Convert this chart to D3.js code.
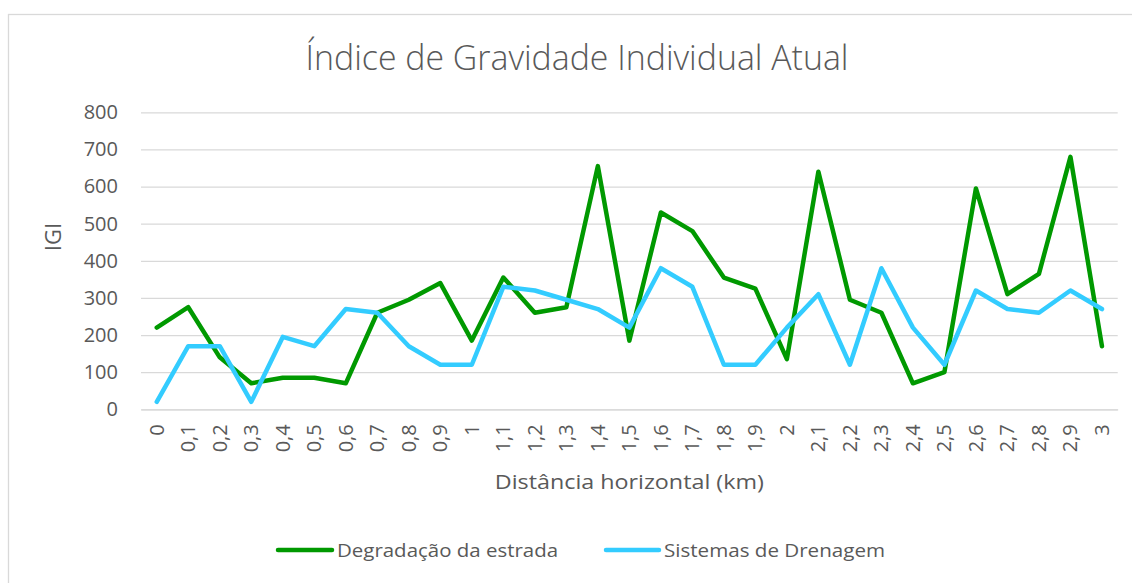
<!DOCTYPE html>
<html>
<head>
<meta charset="utf-8">
<script src="https://cdn.jsdelivr.net/npm/d3@7"></script>
<style>
  html, body { margin: 0; padding: 0; background: #fff; }
  svg { display: block; }
  text { font-family: "Open Sans", "Noto Sans", sans-serif; fill: #595959; }
</style>
</head>
<body>
<svg id="chart" width="1132" height="583"></svg>
<script>
const categories = ["0","0,1","0,2","0,3","0,4","0,5","0,6","0,7","0,8","0,9",
  "1","1,1","1,2","1,3","1,4","1,5","1,6","1,7","1,8","1,9",
  "2","2,1","2,2","2,3","2,4","2,5","2,6","2,7","2,8","2,9","3"];
const degradacao = [220,275,140,70,85,85,70,260,295,340,
  185,355,260,275,655,185,530,480,355,325,
  135,640,295,260,70,100,595,310,365,680,170];
const drenagem = [20,170,170,20,195,170,270,260,170,120,
  120,330,320,295,270,220,380,330,120,120,
  220,310,120,380,220,120,320,270,260,320,270];
const yTicks = [0,100,200,300,400,500,600,700,800];
const seriesNames = ["Degradação da estrada", "Sistemas de Drenagem"];
const seriesColors = ["#009900", "#33ccff"];
const titleText = "Índice de Gravidade Individual Atual";
const xTitle = "Distância horizontal (km)";
const yTitle = "IGI";

const svg = d3.select("#chart");
const plot = { left: 141, right: 1117.7, top: 112.3, bottom: 409.3 };

// chart frame
svg.append("rect").attr("x", 8.5).attr("y", 14.5)
  .attr("width", 1140).attr("height", 600)
  .attr("fill", "#fff").attr("stroke", "#d9d9d9").attr("stroke-width", 1.3);

const x = d3.scaleBand().domain(categories).range([plot.left, plot.right]);
const y = d3.scaleLinear().domain([0, 800]).range([plot.bottom, plot.top]);
const cx = c => x(c) + x.bandwidth() / 2;

// gridlines + y axis labels
const yAxis = d3.axisLeft(y).tickValues(yTicks).tickSize(-(plot.right - plot.left)).tickPadding(23)
  .tickFormat(d3.format("d"));
const gy = svg.append("g").attr("transform", `translate(${plot.left},0)`).call(yAxis);
gy.select(".domain").remove();
gy.selectAll(".tick line").attr("stroke", "#d9d9d9").attr("stroke-width", 1.3);
gy.selectAll(".tick text").attr("font-size", 20).style("fill", "#595959")
  .attr("font-family", "'Open Sans', sans-serif");

// x axis
const xAxis = d3.axisBottom(x).tickSize(0).tickPadding(0);
const gx = svg.append("g").attr("transform", `translate(0,${plot.bottom})`).call(xAxis);
gx.select(".domain").attr("stroke", "#d9d9d9").attr("stroke-width", 1.3);
gx.selectAll(".tick text")
  .attr("font-size", 20).style("fill", "#595959")
  .attr("font-family", "'Open Sans', sans-serif")
  .attr("text-anchor", "end")
  .attr("dy", "0.35em")
  .attr("transform", "translate(0,15) rotate(-90)")
  .attr("x", 0).attr("y", 0);

// lines
const line = d3.line().x((d, i) => cx(categories[i])).y(d => y(d));
[degradacao, drenagem].forEach((s, k) => {
  svg.append("path").datum(s).attr("d", line)
    .attr("fill", "none").attr("stroke", seriesColors[k])
    .attr("stroke-width", 4.5).attr("stroke-linejoin", "round").attr("stroke-linecap", "round");
});

// title
svg.append("text").attr("x", 577).attr("y", 70)
  .attr("text-anchor", "middle").attr("font-size", 34).attr("font-weight", 300)
  .attr("textLength", 543).attr("lengthAdjust", "spacingAndGlyphs")
  .text(titleText);

// axis titles
svg.append("text").attr("x", (plot.left + plot.right) / 2).attr("y", 489)
  .attr("text-anchor", "middle").attr("font-size", 20)
  .attr("textLength", 269).attr("lengthAdjust", "spacingAndGlyphs")
  .text(xTitle);
svg.append("text").attr("transform", "translate(61,237) rotate(-90)")
  .attr("text-anchor", "middle").attr("font-size", 22)
  .text(yTitle);

// legend
const legendItems = [
  { x1: 278, x2: 332, tx: 337, tw: 221 },
  { x1: 606, x2: 659, tx: 664, tw: 221 }
];
legendItems.forEach((it, k) => {
  svg.append("line").attr("x1", it.x1).attr("x2", it.x2).attr("y1", 550).attr("y2", 550)
    .attr("stroke", seriesColors[k]).attr("stroke-width", 4.5).attr("stroke-linecap", "round");
  svg.append("text").attr("x", it.tx).attr("y", 557).attr("font-size", 19)
    .attr("textLength", it.tw).attr("lengthAdjust", "spacingAndGlyphs")
    .text(seriesNames[k]);
});
</script>
</body>
</html>
